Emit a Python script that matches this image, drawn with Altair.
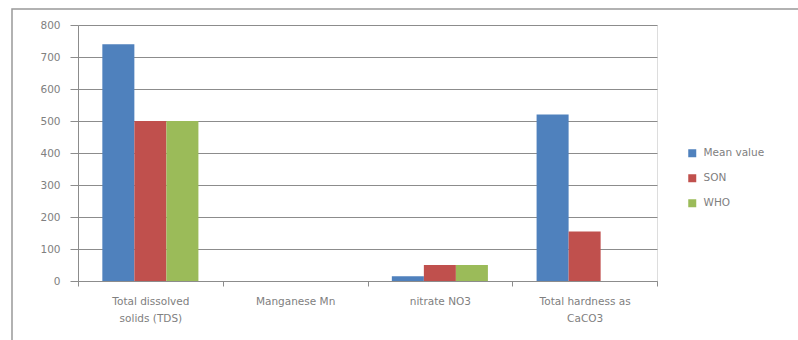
import altair as alt
import pandas as pd

categories = ["Total dissolved solids (TDS)", "Manganese Mn", "nitrate NO3", "Total hardness as CaCO3"]
label_lines = {
    "Total dissolved solids (TDS)": ["Total dissolved", "solids (TDS)"],
    "Manganese Mn": ["Manganese Mn"],
    "nitrate NO3": ["nitrate NO3"],
    "Total hardness as CaCO3": ["Total hardness as", "CaCO3"],
}
series = ["Mean value", "SON", "WHO"]
mean_value = [740, 0.1, 15, 520]
son = [500, 0.05, 50, 155]
who = [500, 0.05, 50, None]
colors = ["#4F81BD", "#C0504D", "#9BBB59"]
y_ticks = [0, 100, 200, 300, 400, 500, 600, 700, 800]

rows = []
for s, vals in zip(series, [mean_value, son, who]):
    for c, v in zip(categories, vals):
        if v is not None:
            rows.append({"category": c, "series": s, "value": v})
df = pd.DataFrame(rows)

expr = "datum.label"
for k, v in reversed(list(label_lines.items())):
    arr = "[" + ", ".join("'" + s + "'" for s in v) + "]"
    expr = f"datum.label == '{k}' ? {arr} : ({expr})"

FONT = "DejaVu Sans"
GRAY = "#8c8c8c"
TEXT = "#808080"

bars = alt.Chart(df).mark_bar(stroke=None).encode(
    x=alt.X(
        "category:N", sort=categories,
        scale=alt.Scale(paddingInner=0, paddingOuter=0),
        axis=alt.Axis(title=None, labelAngle=0, tickBand="extent", labelExpr=expr,
                      domainColor=GRAY, tickColor=GRAY, tickSize=5, labelColor=TEXT,
                      labelFont=FONT, labelFontSize=10.5, labelPadding=10, labelLineHeight=17,
                      grid=False),
    ),
    xOffset=alt.XOffset("series:N", sort=series,
                        scale=alt.Scale(paddingInner=0, paddingOuter=0.76)),
    y=alt.Y(
        "value:Q",
        scale=alt.Scale(domain=[0, 800], nice=False),
        axis=alt.Axis(title=None, values=y_ticks, grid=True, gridColor=GRAY, gridOpacity=1,
                      domainColor=GRAY, tickColor=GRAY, tickSize=8, labelColor=TEXT,
                      labelFont=FONT, labelFontSize=10.5, labelPadding=10),
    ),
    color=alt.Color(
        "series:N", sort=series,
        scale=alt.Scale(domain=series, range=colors),
        legend=alt.Legend(title=None, orient="none", legendX=609, legendY=123,
                          symbolType="square", symbolSize=64, symbolStrokeWidth=0,
                          labelFont=FONT, labelFontSize=10.5, labelColor=TEXT,
                          rowPadding=14, labelOffset=6),
    ),
)

frame = alt.Chart(pd.DataFrame({"a": [0]})).mark_rect(
    fill="transparent", stroke="#999999", strokeWidth=1.5
).encode(
    x=alt.value(-66), x2=alt.value(730), y=alt.value(-16), y2=alt.value(330)
)

chart = alt.layer(frame, bars).properties(
    width=579, height=256,
    autosize=alt.AutoSizeParams(type="none"),
    padding={"left": 78, "top": 25, "right": 141, "bottom": 59},
).configure_view(stroke=None).configure(background="white")

chart.save("out.html", embed_options={"renderer": "svg", "actions": False})
